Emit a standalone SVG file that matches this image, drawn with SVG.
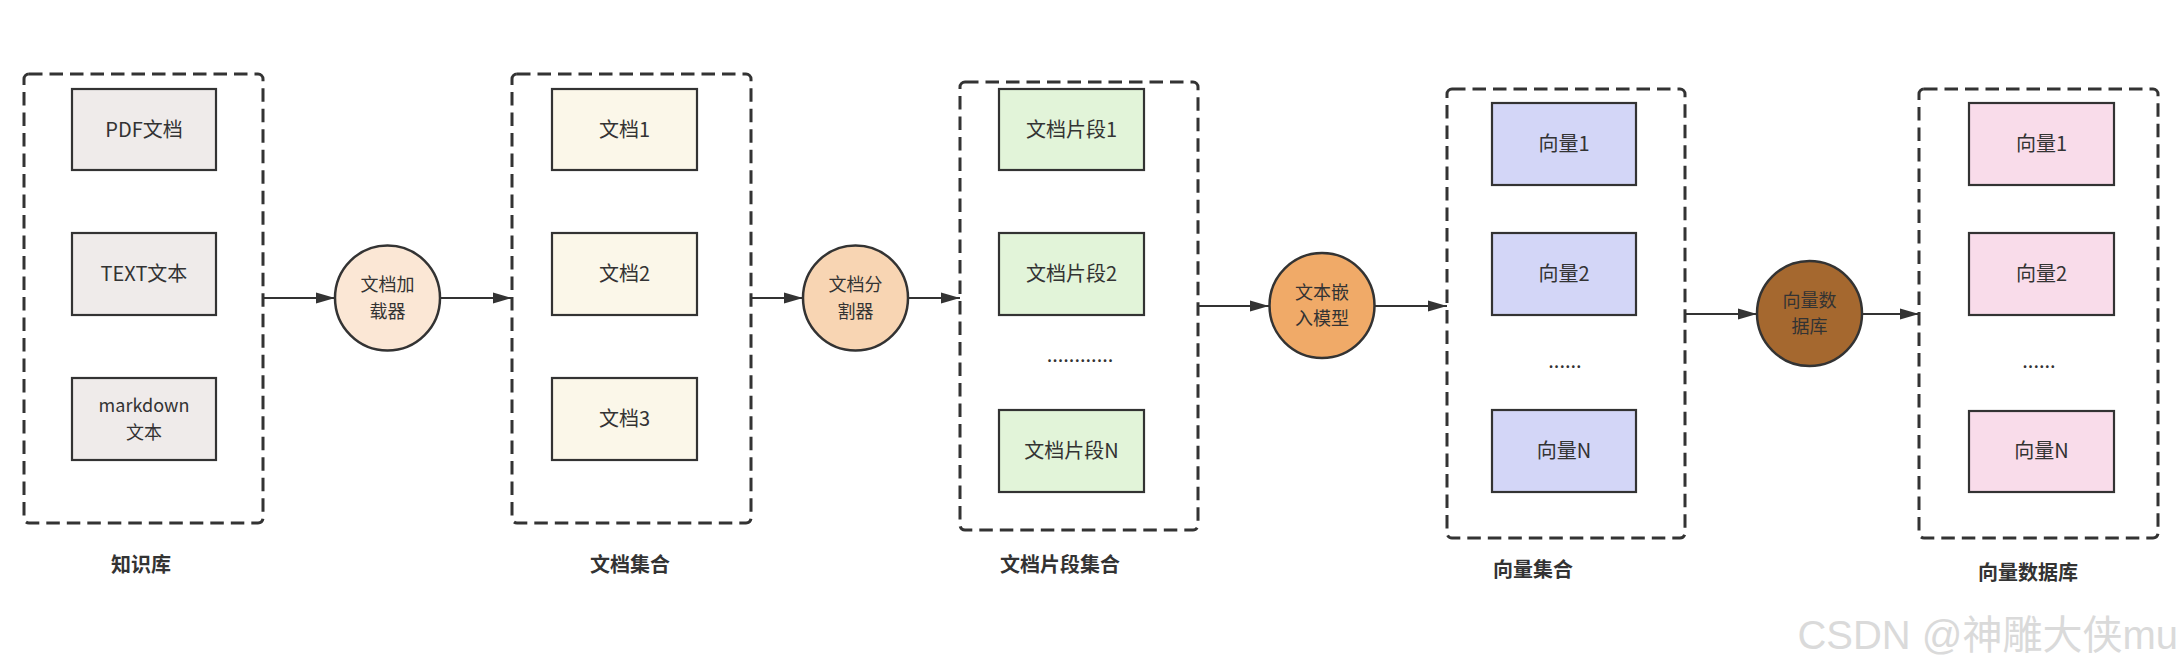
<svg xmlns="http://www.w3.org/2000/svg" width="2182" height="672" viewBox="0 0 2182 672">
  <defs>
    <marker id="arrow" markerUnits="userSpaceOnUse" markerWidth="20" markerHeight="12" refX="19" refY="6" orient="auto">
      <path d="M0,0.5 L19,6 L0,11.5 Z" fill="#333333"/>
    </marker>
    <style>
      .container { fill: none; stroke: #333333; stroke-width: 3; stroke-dasharray: 13.5 7; }
      .box { stroke: #333333; stroke-width: 2.2; }
      .k { fill: #efebea; }
      .d { fill: #fbf7e9; }
      .f { fill: #e2f4d9; }
      .v { fill: #d3d6f7; }
      .p { fill: #f9dcea; }
      .circle { stroke: #333333; stroke-width: 2.5; }
      .t { font-family: "Noto Sans CJK SC", "Liberation Sans", sans-serif; font-size: 20px; fill: #333333; text-anchor: middle; }
      .t2 { font-family: "Noto Sans CJK SC", "Liberation Sans", sans-serif; font-size: 18px; fill: #333333; text-anchor: middle; }
      .label { font-family: "Noto Sans CJK SC", "Liberation Sans", sans-serif; font-size: 20px; font-weight: bold; fill: #333333; text-anchor: middle; }
      .edge { fill: none; stroke: #333333; stroke-width: 2.2; marker-end: url(#arrow); }
      .wm { font-family: "Liberation Sans", "Noto Sans CJK SC", sans-serif; font-size: 40px; fill: #dadada; text-anchor: end; }
    </style>
  </defs>
  <rect width="2182" height="672" fill="#ffffff"/>

  <g id="connectors">
    <path class="edge" d="M263,298 L335,298"/>
    <path class="edge" d="M440,298 L512,298"/>
    <path class="edge" d="M751,298 L803,298"/>
    <path class="edge" d="M908,298 L960,298"/>
    <path class="edge" d="M1198,306 L1269,306"/>
    <path class="edge" d="M1375,306 L1447,306"/>
    <path class="edge" d="M1685,314 L1757,314"/>
    <path class="edge" d="M1862,314 L1919,314"/>
  </g>

  <g id="knowledge-base">
    <rect class="container" x="24" y="74" width="239" height="449" rx="5"/>
    <text class="label" x="141" y="572">知识库</text>
  </g>
  <g id="pdf-doc">
    <rect class="box k" x="72" y="89" width="144" height="81"/>
    <text class="t" x="144" y="137">PDF文档</text>
  </g>
  <g id="text-doc">
    <rect class="box k" x="72" y="233" width="144" height="82"/>
    <text class="t" x="144" y="281">TEXT文本</text>
  </g>
  <g id="markdown-doc">
    <rect class="box k" x="72" y="378" width="144" height="82"/>
    <text class="t2" x="144" y="412">markdown<tspan x="144" dy="26.5">文本</tspan></text>
  </g>

  <g id="doc-loader">
    <circle class="circle" cx="387.5" cy="298" r="52.5" fill="#fbe7d5"/>
    <text class="t2" x="387.5" y="291.2">文档加<tspan x="387.5" dy="26.5">载器</tspan></text>
  </g>

  <g id="doc-collection">
    <rect class="container" x="512" y="74" width="239" height="449" rx="5"/>
    <text class="label" x="630" y="572">文档集合</text>
  </g>
  <g id="doc1">
    <rect class="box d" x="552" y="89" width="145" height="81"/>
    <text class="t" x="624.5" y="137">文档1</text>
  </g>
  <g id="doc2">
    <rect class="box d" x="552" y="233" width="145" height="82"/>
    <text class="t" x="624.5" y="281">文档2</text>
  </g>
  <g id="doc3">
    <rect class="box d" x="552" y="378" width="145" height="82"/>
    <text class="t" x="624.5" y="426">文档3</text>
  </g>

  <g id="doc-splitter">
    <circle class="circle" cx="855.5" cy="298" r="52.5" fill="#f8d5b3"/>
    <text class="t2" x="855.5" y="291.2">文档分<tspan x="855.5" dy="26.5">割器</tspan></text>
  </g>

  <g id="fragment-collection">
    <rect class="container" x="960" y="82" width="238" height="448" rx="5"/>
    <text class="label" x="1060" y="572">文档片段集合</text>
  </g>
  <g id="frag1">
    <rect class="box f" x="999" y="89" width="145" height="81"/>
    <text class="t" x="1071.5" y="137">文档片段1</text>
  </g>
  <g id="frag2">
    <rect class="box f" x="999" y="233" width="145" height="82"/>
    <text class="t" x="1071.5" y="281">文档片段2</text>
  </g>
  <g id="frag-dots">
    <text class="t" x="1080" y="362">............</text>
  </g>
  <g id="fragN">
    <rect class="box f" x="999" y="410" width="145" height="82"/>
    <text class="t" x="1071.5" y="458">文档片段N</text>
  </g>

  <g id="embedding-model">
    <circle class="circle" cx="1322" cy="305.5" r="52.5" fill="#f0aa68"/>
    <text class="t2" x="1322" y="298.7">文本嵌<tspan x="1322" dy="26.5">入模型</tspan></text>
  </g>

  <g id="vector-collection">
    <rect class="container" x="1447" y="89" width="238" height="449" rx="5"/>
    <text class="label" x="1533" y="577">向量集合</text>
  </g>
  <g id="vec1">
    <rect class="box v" x="1492" y="103" width="144" height="82"/>
    <text class="t" x="1564" y="151">向量1</text>
  </g>
  <g id="vec2">
    <rect class="box v" x="1492" y="233" width="144" height="82"/>
    <text class="t" x="1564" y="281">向量2</text>
  </g>
  <g id="vec-dots">
    <text class="t" x="1565" y="368">......</text>
  </g>
  <g id="vecN">
    <rect class="box v" x="1492" y="410" width="144" height="82"/>
    <text class="t" x="1564" y="458">向量N</text>
  </g>

  <g id="vector-db-node">
    <circle class="circle" cx="1809.5" cy="313.5" r="52.5" fill="#a5682f"/>
    <text class="t2" x="1809.5" y="306.7">向量数<tspan x="1809.5" dy="26.5">据库</tspan></text>
  </g>

  <g id="vector-database">
    <rect class="container" x="1919" y="89" width="239" height="449" rx="5"/>
    <text class="label" x="2028" y="580">向量数据库</text>
  </g>
  <g id="db-vec1">
    <rect class="box p" x="1969" y="103" width="145" height="82"/>
    <text class="t" x="2041.5" y="151">向量1</text>
  </g>
  <g id="db-vec2">
    <rect class="box p" x="1969" y="233" width="145" height="82"/>
    <text class="t" x="2041.5" y="281">向量2</text>
  </g>
  <g id="db-dots">
    <text class="t" x="2039" y="368">......</text>
  </g>
  <g id="db-vecN">
    <rect class="box p" x="1969" y="411" width="145" height="81"/>
    <text class="t" x="2041.5" y="458">向量N</text>
  </g>

  <text class="wm" x="2178" y="649">CSDN @神雕大侠mu</text>
</svg>
